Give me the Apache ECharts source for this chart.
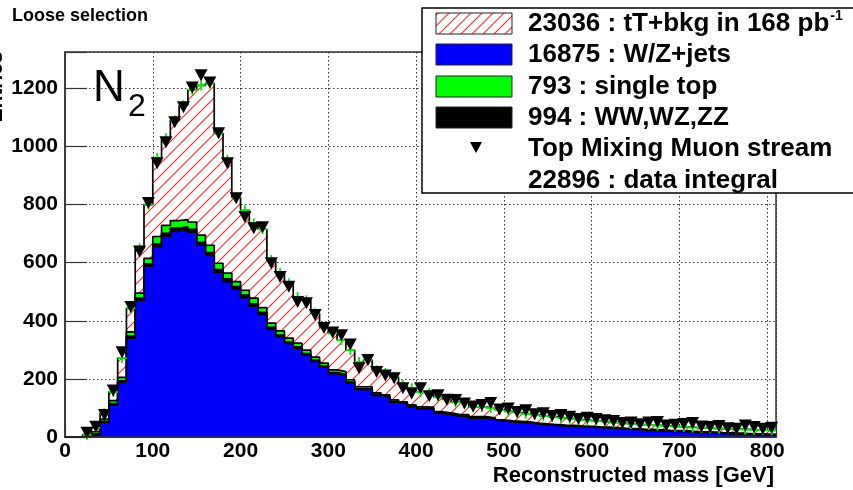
<!DOCTYPE html>
<html>
<head>
<meta charset="utf-8">
<script src="https://cdn.jsdelivr.net/npm/echarts@6/dist/echarts.min.js"></script>
<style>
  html, body { margin: 0; padding: 0; background: #fff; }
  #chart { width: 853px; height: 490px; }
</style>
</head>
<body>
<div id="chart"></div>
<script>
// Reconstructed top mass, 10 GeV bins (lower edges), stacked MC + data
const massBinEdges = [
  0, 10, 20, 30, 40, 50, 60, 70, 80, 90,
  100, 110, 120, 130, 140, 150, 160, 170, 180, 190,
  200, 210, 220, 230, 240, 250, 260, 270, 280, 290,
  300, 310, 320, 330, 340, 350, 360, 370, 380, 390,
  400, 410, 420, 430, 440, 450, 460, 470, 480, 490,
  500, 510, 520, 530, 540, 550, 560, 570, 580, 590,
  600, 610, 620, 630, 640, 650, 660, 670, 680, 690,
  700, 710, 720, 730, 740, 750, 760, 770, 780, 790,
  800
];
const massAxisEnd = 810;
const binWidth = 10;

const wzJets = [
  0, 0, 2, 8, 50, 110, 188, 340, 470, 588,
  655, 690, 708, 712, 705, 660, 625, 567, 535, 510,
  480, 450, 422, 370, 345, 322, 305, 282, 260, 240,
  218, 212, 186, 163, 163, 143, 137, 120, 114, 104,
  97, 97, 81, 77, 72, 72, 65, 65, 61, 55,
  52, 50, 48, 45, 42, 40, 38, 37, 35, 34,
  32, 31, 29, 27, 26, 24, 23, 22, 20, 19,
  18, 16, 15, 14, 12, 11, 10, 9, 8, 7,
  7
];
const diboson = [
  0, 0, 1, 3, 4, 5, 5, 7, 8, 8,
  10, 11, 11, 11, 10, 10, 10, 9, 9, 8,
  8, 8, 7, 7, 6, 5, 5, 5, 5, 4,
  4, 4, 3, 3, 3, 3, 2, 2, 2, 2,
  2, 2, 2, 2, 2, 2, 2, 2, 2, 1,
  1, 1, 1, 1, 1, 1, 1, 1, 1, 1,
  1, 1, 1, 1, 1, 1, 1, 1, 1, 1,
  1, 1, 1, 1, 1, 1, 1, 1, 1, 1,
  1
];
const singleTop = [
  0, 0, 1, 7, 8, 10, 12, 15, 17, 19,
  25, 27, 26, 25, 25, 25, 25, 22, 20, 17,
  17, 20, 16, 15, 14, 13, 13, 12, 10, 10,
  9, 9, 8, 7, 7, 6, 6, 6, 5, 5,
  5, 4, 4, 4, 3, 3, 3, 3, 3, 3,
  3, 3, 3, 2, 2, 2, 2, 2, 2, 2,
  2, 2, 2, 2, 2, 2, 2, 2, 2, 2,
  2, 2, 2, 2, 2, 2, 2, 2, 2, 2,
  1
];
const ttbar = [
  0, 0, 4, 14, 20, 30, 67, 81, 155, 185,
  270, 300, 345, 394, 455, 515, 557, 447, 389, 290,
  275, 257, 270, 217, 199, 189, 159, 172, 151, 124,
  126, 109, 102, 85, 92, 78, 75, 78, 58, 57,
  51, 48, 51, 47, 43, 40, 33, 33, 34, 34,
  32, 30, 28, 28, 27, 27, 25, 23, 22, 20,
  20, 19, 18, 17, 16, 16, 15, 15, 15, 14,
  14, 14, 14, 13, 14, 14, 14, 14, 14, 14,
  14
];
const muonData = [
  null, null, 15, 35, 76, 160, 292, 447, 638, 805,
  942, 1014, 1083, 1135, 1203, 1245, 1220, 1045, 942, 822,
  757, 718, 722, 598, 551, 517, 465, 460, 420, 375,
  360, 350, 318, 237, 265, 224, 212, 202, 168, 150,
  168, 140, 144, 128, 127, 115, 105, 110, 117, 95,
  98, 86, 92, 78, 82, 72, 76, 70, 62, 66,
  62, 58, 55, 48, 50, 44, 50, 52, 40, 42,
  45, 48, 36, 34, 38, 30, 28, 40, 34, 28,
  32
];

const legendLabels = [
  '23036 : tT+bkg in 168 pb',
  '16875 : W/Z+jets',
  '793 : single top',
  '994 : WW,WZ,ZZ',
  'Top Mixing Muon stream',
  '22896 : data integral'
];
const xTickValues = [0, 100, 200, 300, 400, 500, 600, 700, 800];
const yTickValues = [0, 200, 400, 600, 800, 1000, 1200];

const FONT = '"Liberation Sans", Arial, Helvetica, sans-serif';

// red "/" hatching on white, as a repeating canvas pattern
function makeHatch(size) {
  const c = document.createElement('canvas');
  c.width = size; c.height = size;
  const g = c.getContext('2d');
  g.fillStyle = '#ffffff';
  g.fillRect(0, 0, size, size);
  g.strokeStyle = '#ff2a2a';
  g.lineWidth = 1.1;
  g.beginPath();
  g.moveTo(-1, size + 1); g.lineTo(size + 1, -1);
  g.moveTo(-1, 1); g.lineTo(1, -1);
  g.moveTo(size - 1, size + 1); g.lineTo(size + 1, size - 1);
  g.stroke();
  return c;
}
const hatch = { image: makeHatch(12), repeat: 'repeat' };
const hatchSmall = { image: makeHatch(11), repeat: 'repeat' };

// cumulative stack: each layer is drawn from zero, top layer first
function addArrays(a, b) { return a.map((v, i) => v + b[i]); }
const stackWZ = wzJets.slice();
const stackVV = addArrays(stackWZ, diboson);
const stackST = addArrays(stackVV, singleTop);
const stackAll = addArrays(stackST, ttbar);

// histogram as step line: one point per lower edge + closing point
function stepData(vals) {
  const d = vals.map((v, i) => [massBinEdges[i], v]);
  d.push([massAxisEnd, vals[vals.length - 1]]);
  return d;
}
const centers = massBinEdges.map(e => e + binWidth / 2);
const dataPoints = [];
muonData.forEach((v, i) => { if (v != null) dataPoints.push([centers[i], v]); });
const totalPoints = stackAll.map((v, i) => [centers[i], v]).filter(p => p[1] > 0);

function histSeries(name, vals, fill, z) {
  return {
    name, type: 'line', step: 'end', symbol: 'none',
    data: stepData(vals), z,
    lineStyle: { color: '#000', width: 1.7 },
    areaStyle: { color: fill, opacity: 1, origin: 'start' },
    emphasis: { disabled: true }, silent: true
  };
}

const chart = echarts.init(document.getElementById('chart'), null, { renderer: 'canvas' });

const legendX = 422, legendY = 8;
const rowY = [23, 54, 86, 117, 148, 180];
const swatchFills = [hatchSmall, '#0000ff', '#00ff00', '#000000'];
const legendGraphics = [
  { type: 'rect', shape: { x: legendX, y: legendY, width: 460, height: 185 },
    style: { fill: '#fff', stroke: '#000', lineWidth: 1.5 }, z: 100 }
];
swatchFills.forEach((f, i) => {
  legendGraphics.push({
    type: 'rect', shape: { x: 436, y: rowY[i] - 10, width: 76, height: 21 },
    style: { fill: f, stroke: '#222', lineWidth: 1 }, z: 101
  });
});
legendGraphics.push({
  type: 'polygon', shape: { points: [[470, 142], [482, 142], [476, 153]] },
  style: { fill: '#000' }, z: 101
});
legendLabels.forEach((t, i) => {
  const style = i === 0
    ? {
        text: '{m|' + t + '}{s|-1}',
        rich: {
          m: { font: 'bold 26px ' + FONT, fill: '#000', lineHeight: 30, verticalAlign: 'middle' },
          s: { font: 'bold 14px ' + FONT, fill: '#000', lineHeight: 30, verticalAlign: 'top', padding: [0, 0, 0, 1] }
        },
        verticalAlign: 'middle', align: 'left'
      }
    : { text: t, fill: '#000', font: 'bold 26px ' + FONT, verticalAlign: 'middle', align: 'left' };
  legendGraphics.push({ type: 'text', x: 528, y: rowY[i] + 1, z: 101, style });
});

const option = {
  animation: false,
  backgroundColor: '#fff',
  grid: {
    left: 65, right: 77, top: 52, bottom: 53,
    show: true, borderColor: '#333', borderWidth: 1.5, backgroundColor: 'transparent'
  },
  xAxis: [{
    type: 'value', min: 0, max: massAxisEnd, interval: 100,
    axisLine: { show: true, lineStyle: { color: '#333', width: 1.5 } },
    axisTick: { show: true, inside: true, length: 12, lineStyle: { color: '#333', width: 1.2 } },
    axisLabel: {
      margin: 4, color: '#000', fontSize: 21, fontWeight: 'bold', fontFamily: FONT,
      formatter: v => (xTickValues.indexOf(v) >= 0 ? String(v) : '')
    },
    splitLine: { show: true, lineStyle: { color: '#333', width: 1, type: [1.5, 2.5] } }
  }, {
    // bottom frame drawn above the filled histograms
    type: 'value', min: 0, max: massAxisEnd, position: 'bottom', z: 20,
    axisLine: { show: true, lineStyle: { color: '#333', width: 1.5 } },
    axisTick: { show: false }, axisLabel: { show: false }, splitLine: { show: false }
  }],
  yAxis: {
    type: 'value', min: 0, max: 1325, interval: 200,
    axisLine: { show: true, lineStyle: { color: '#333', width: 1.5 } },
    axisTick: { show: true, inside: true, length: 22, lineStyle: { color: '#333', width: 1.2 } },
    axisLabel: {
      margin: 7, color: '#000', fontSize: 21, fontWeight: 'bold', fontFamily: FONT,
      formatter: v => (yTickValues.indexOf(v) >= 0 ? String(v) : '')
    },
    splitLine: { show: true, lineStyle: { color: '#333', width: 1, type: [1.5, 2.5] } }
  },
  series: [
    histSeries('tT+bkg', stackAll, hatch, 2),
    histSeries('single top', stackST, '#00ff00', 3),
    histSeries('WW,WZ,ZZ', stackVV, '#000000', 4),
    histSeries('W/Z+jets', stackWZ, '#0000ff', 5),
    {
      name: 'MC total', type: 'scatter', data: totalPoints, z: 6,
      symbol: 'path://M4,0h2v10h-2z M0,4h10v2h-10z', symbolSize: [9, 10],
      itemStyle: { color: '#00ee00', opacity: 1 }, silent: true
    },
    {
      name: 'Top Mixing Muon stream', type: 'scatter', data: dataPoints, z: 7,
      symbol: 'triangle', symbolRotate: 180, symbolSize: [13, 12],
      itemStyle: { color: '#000', opacity: 1 }, silent: true
    }
  ],
  graphic: [
    { type: 'text', x: 12, y: 16, z: 50,
      style: { text: 'Loose selection', fill: '#000', font: 'bold 18px ' + FONT, verticalAlign: 'middle' } },
    { type: 'text', x: -4, y: 87, rotation: Math.PI / 2, z: 50,
      style: { text: 'Entries', fill: '#000', font: 'bold 21px ' + FONT, align: 'center', verticalAlign: 'middle' } },
    { type: 'text', x: 93, y: 89, z: 50,
      style: { text: 'N', fill: '#000', font: '44px ' + FONT, verticalAlign: 'middle' } },
    { type: 'text', x: 128, y: 107, z: 50,
      style: { text: '2', fill: '#000', font: '32px ' + FONT, verticalAlign: 'middle' } },
    { type: 'text', x: 774, y: 476, z: 50,
      style: { text: 'Reconstructed mass [GeV]', fill: '#000', font: 'bold 22px ' + FONT, align: 'right', verticalAlign: 'middle' } }
  ].concat(legendGraphics)
};

chart.setOption(option);
</script>
</body>
</html>
